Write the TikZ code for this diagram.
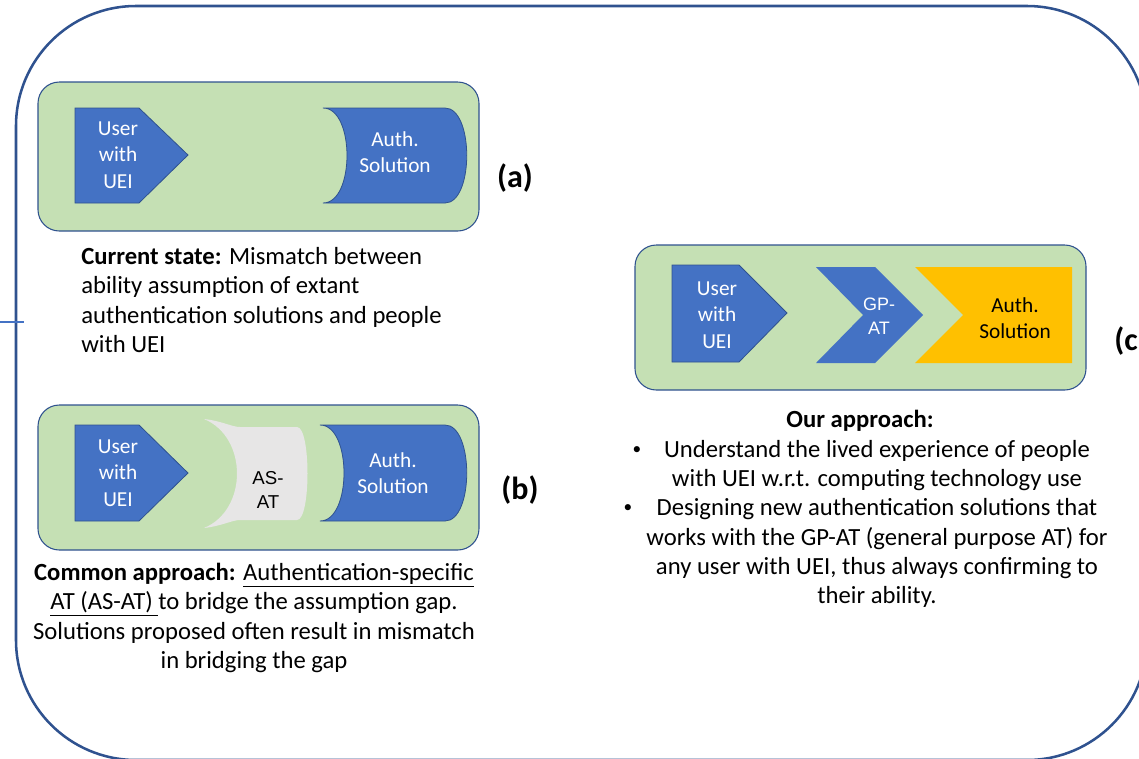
\documentclass[tikz,border=0pt]{standalone}
\usepackage{fontspec}
\setmainfont{Carlito}
\newfontfamily\arialfont{Liberation Sans}
\usepackage{xcolor}
\definecolor{framecol}{RGB}{47, 82, 143}
\definecolor{panelgreen}{RGB}{197, 224, 180}
\definecolor{blueshape}{RGB}{68, 114, 196}
\definecolor{atgray}{RGB}{231, 230, 230}
\definecolor{authgold}{RGB}{255, 192, 0}

\begin{document}
\begin{tikzpicture}[
    x=0.75pt, y=-0.75pt,
    % Styles definition
    frame/.style={draw=framecol, line width=1.9pt, rounded corners=90pt},
    panel/.style={fill=panelgreen, draw=framecol, line width=0.8pt, rounded corners=16pt},
    usershape/.style={fill=blueshape, draw=framecol, line width=0.6pt},
    authshape/.style={fill=blueshape, draw=framecol, line width=0.6pt},
    atshape/.style={fill=atgray},
    gpshape/.style={fill=blueshape},
    goldshape/.style={fill=authgold},
    shapetext/.style={text=white, align=center, inner sep=0pt, font=\fontsize{16}{20}\selectfont},
    attext/.style={align=center, inner sep=0pt, font=\arialfont\fontsize{14}{18}\selectfont},
    tag/.style={inner sep=0pt, font=\fontsize{24}{28}\selectfont\bfseries},
    caption/.style={inner sep=0pt, font=\fontsize{18.5}{22}\selectfont},
    dot/.style={inner sep=0pt, font=\fontsize{13}{13}\selectfont}
]
\useasboundingbox (0,0) rectangle (1139,758);
\clip (0,0) rectangle (1139,758);

% Outer frame
\draw[frame] (16,6) rectangle (1147,760);
\draw[draw=blueshape, line width=0.8pt] (0,322) -- (24,322);

% 1. Panel (a): current state
\draw[panel] (38,82) rectangle (479,231);
\fill[usershape] (75,108) -- (139,108) -- (188,155) -- (139,203) -- (75,203) -- cycle;
\node[shapetext] (user_a) at (118,155) {User\\with\\UEI};
\fill[authshape] (323,108) -- (445,108) .. controls (474,108) and (474,203) .. (445,203)
    -- (323,203) .. controls (355,203) and (355,108) .. (323,108) -- cycle;
\node[shapetext] (auth_a) at (395,152) {Auth.\\Solution};
\node[tag] (tag_a) at (515,178) {(a)};
\node[caption, anchor=west, align=left] (text_a) at (81,300)
    {\textbf{Current state:} Mismatch between\\ability assumption of extant\\authentication solutions and people\\with UEI};

% 2. Panel (b): common approach
\draw[panel] (38,405) rectangle (479,550);
\fill[usershape] (75,425) -- (139,425) -- (188,473) -- (139,521) -- (75,521) -- cycle;
\node[shapetext] (user_b) at (118,473) {User\\with\\UEI};
\fill[atshape] (204,419) .. controls (222,421) and (232,427) .. (240,427) -- (297,427)
    .. controls (311,427) and (311,520) .. (297,520) -- (240,520)
    .. controls (232,520) and (222,526) .. (204,528)
    .. controls (248,510) and (248,437) .. (204,419) -- cycle;
\node[attext] (asat) at (268,490) {AS-\\AT};
\fill[authshape] (320,425) -- (445,425) .. controls (474,425) and (474,521) .. (445,521)
    -- (320,521) .. controls (352,521) and (352,425) .. (320,425) -- cycle;
\node[shapetext] (auth_b) at (393,473) {Auth.\\Solution};
\node[tag] (tag_b) at (520,490) {(b)};
\node[caption, align=center] (text_b) at (254,618)
    {\textbf{Common approach:} \underline{Authentication-specific}\\\underline{AT (AS-AT)\ }to bridge the assumption gap.\\Solutions proposed often result in mismatch\\in bridging the gap};

% 3. Panel (c): our approach
\draw[panel] (635,245) rectangle (1086,390);
\fill[usershape] (672,265) -- (739,265) -- (787,313) -- (739,362) -- (672,362) -- cycle;
\node[shapetext] (user_c) at (717,315) {User\\with\\UEI};
\fill[gpshape] (816,267) -- (875,267) -- (923,315) -- (875,363) -- (816,363) -- (863,315) -- cycle;
\node[shapetext, font=\arialfont\fontsize{13.5}{18}\selectfont] (gpat) at (879,316) {GP-\\AT};
\fill[goldshape] (915,267) -- (1072,267) -- (1072,363) -- (915,363) -- (963,315) -- cycle;
\node[shapetext, text=black] (auth_c) at (1015,318) {Auth.\\Solution};
\node[tag] (tag_c) at (1131,341) {(c)};

\node[caption] (head_c) at (860,421) {\textbf{Our approach:}};
\node[caption, align=center] (text_c) at (877,524)
    {Understand the lived experience of people\\with UEI w.r.t. computing technology use\\Designing new authentication solutions that\\works with the GP-AT (general purpose AT) for\\any user with UEI, thus always confirming to\\their ability.};
\node[dot] (bullet1) at (637,451) {\textbullet};
\node[dot] (bullet2) at (628,509) {\textbullet};

\end{tikzpicture}
\end{document}
